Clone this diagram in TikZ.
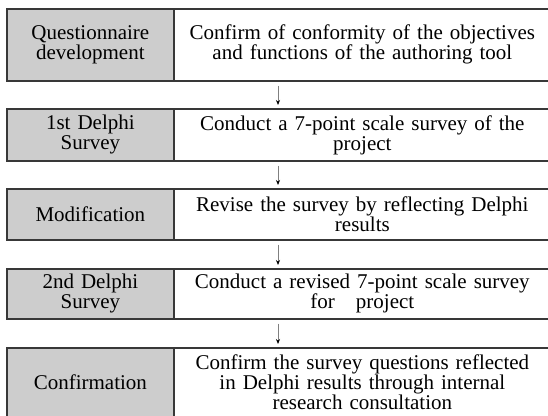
\documentclass[tikz,border=0pt]{standalone}
\usepackage{fontspec}
\setmainfont{Liberation Serif}
\usetikzlibrary{arrows.meta}
\definecolor{cellfill}{HTML}{CDCDCD}
\definecolor{rulecol}{HTML}{383838}
\tikzset{
  cell/.style={draw=rulecol, line width=1.7pt, rectangle, inner sep=0pt, align=center,
    font=\fontsize{21}{20}\selectfont, anchor=north west},
  cellL/.style={cell, fill=cellfill, minimum width=167pt, text width=160pt},
  cellR/.style={cell, fill=white, minimum width=377pt, text width=370pt},
  arr/.style={draw=gray, line width=0.8pt, -{Stealth[length=5pt,width=4pt,black]},
    shorten <=4pt, shorten >=3pt}
}
\begin{document}
\begin{tikzpicture}[x=1pt,y=-1pt]
\useasboundingbox (0,0) rectangle (548,415);
\clip (0,0) rectangle (548,415);
\node[cellL, minimum height=72pt] (l1) at (6,8) {Questionnaire\\development};
\node[cellR, minimum height=72pt] (r1) at (173,8) {Confirm of conformity of the objectives\\and functions of the authoring tool};
\node[cellL, minimum height=52pt] (l2) at (6,108) {1st Delphi\\Survey};
\node[cellR, minimum height=52pt] (r2) at (173,108) {Conduct a 7-point scale survey of the\\project};
\node[cellL, minimum height=51pt] (l3) at (6,188) {Modification};
\node[cellR, minimum height=51pt] (r3) at (173,188) {Revise the survey by reflecting Delphi\\results};
\node[cellL, minimum height=50pt] (l4) at (6,268) {2nd Delphi\\Survey};
\node[cellR, minimum height=50pt] (r4) at (173,268) {Conduct a revised 7-point scale survey\\for~~ project};
\node[cellL, minimum height=69pt] (l5) at (6,347) {Confirmation};
\node[cellR, minimum height=69pt] (r5) at (173,347) {Confirm the survey questions reflected\\in Delphi results through internal\\research consultation};
\coordinate (ax) at (278,0);
\draw[arr] (r1.south -| ax) -- (r2.north -| ax);
\draw[arr] (r2.south -| ax) -- (r3.north -| ax);
\draw[arr] (r3.south -| ax) -- (r4.north -| ax);
\draw[arr] (r4.south -| ax) -- (r5.north -| ax);
\end{tikzpicture}
\end{document}
